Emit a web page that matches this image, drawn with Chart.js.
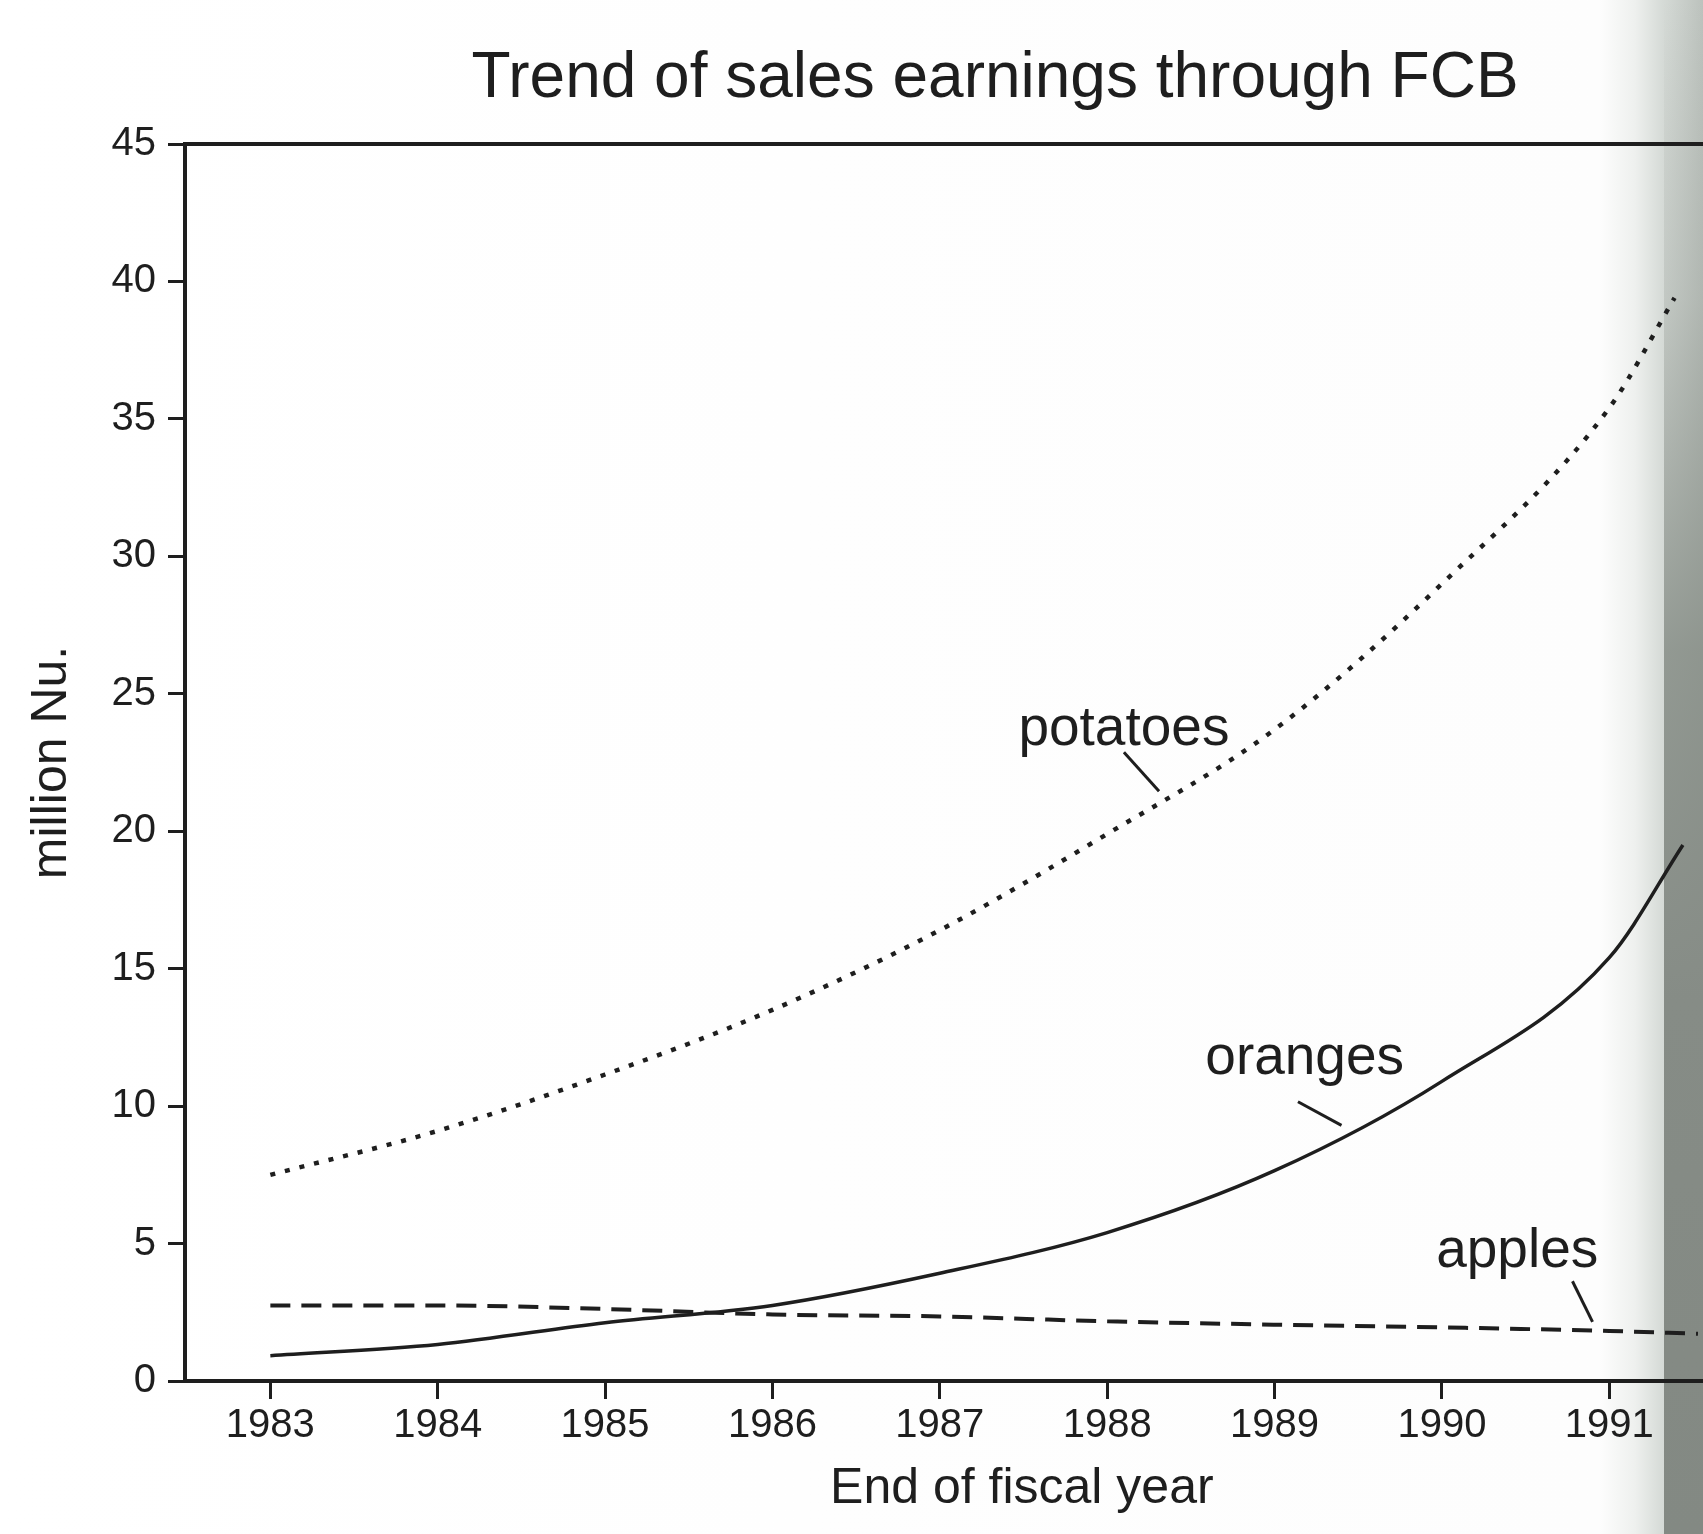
<!DOCTYPE html>
<html>
<head>
<meta charset="utf-8">
<script src="https://cdn.jsdelivr.net/npm/chart.js@4.4.1/dist/chart.umd.min.js"></script>
<style>
  html, body { margin: 0; padding: 0; background: #ffffff; }
  body { width: 1703px; height: 1534px; overflow: hidden; }
  #wrap { position: relative; width: 1703px; height: 1534px;
    background: linear-gradient(to right, #ffffff 0px, #fdfdfd 1600px, #eef0ee 1635px, #d6dbd7 1662px, #bcc2bd 1703px); }
  #edge { position: absolute; left: 1664px; top: 0; width: 39px; height: 1534px; z-index: 0;
    background: linear-gradient(to bottom, rgba(140,147,140,0) 0px, rgba(140,147,140,0.25) 300px, rgba(135,142,135,0.85) 650px, #868c86 1000px, #838983 1534px); }
  #c { position: absolute; left: 0; top: 0; z-index: 1; }
</style>
</head>
<body>
<div id="wrap"><div id="edge"></div><canvas id="c" width="1703" height="1534"></canvas></div>
<script>
// ---------------- data ----------------
const years    = [1983, 1984, 1985, 1986, 1987, 1988, 1989, 1990, 1991];
const potatoes = [7.5, 9.1, 11.15, 13.5, 16.4, 19.9, 23.7, 29.0, 35.4];
const oranges  = [0.92, 1.33, 2.12, 2.75, 3.92, 5.4, 7.65, 10.9, 15.4];
const apples   = [2.75, 2.75, 2.62, 2.42, 2.35, 2.17, 2.05, 1.95, 1.82];
// where each trend curve runs off the page edge: [year, value]
const potatoesEnd = [1991.39, 39.4];
const orangesEnd  = [1991.44, 19.5];
const applesEnd   = [1991.53, 1.72];
const seriesNames = ['potatoes', 'oranges', 'apples'];
const yTickValues = [0, 5, 10, 15, 20, 25, 30, 35, 40, 45];
const xTickLabels = years;
const xRange = [1982.49, 1991.56];
const titleText  = 'Trend of sales earnings through FCB';
const xTitleText = 'End of fiscal year';
const yTitleText = 'million Nu.';

// ---------------- styling ----------------
const INK = '#1e1e1e';
const FAMILY = '"Liberation Sans", Arial, Helvetica, sans-serif';

function pts(vals, end) {
  return years.map((yr, i) => ({ x: yr, y: vals[i] })).concat([{ x: end[0], y: end[1] }]);
}

// text annotations anchored in data coordinates
const curveLabels = [
  { text: seriesNames[0], at: [1988.10, 23.7], from: [1988.10, 22.87], to: [1988.31, 21.45] },
  { text: seriesNames[1], at: [1989.18, 11.73], from: [1989.14, 10.16], to: [1989.40, 9.3] },
  { text: seriesNames[2], at: [1990.45, 4.71], from: [1990.78, 3.63], to: [1990.90, 2.15] }
];

const annotate = {
  id: 'annotate',
  afterDatasetsDraw(chart) {
    const { ctx, chartArea } = chart;
    const x = chart.scales.x, y = chart.scales.y;
    ctx.save();
    ctx.fillStyle = INK;
    ctx.strokeStyle = INK;
    ctx.textAlign = 'center';
    ctx.textBaseline = 'middle';
    // chart title
    ctx.font = '64px ' + FAMILY;
    ctx.fillText(titleText, x.getPixelForValue(1987.33), chartArea.top - 65);
    // x axis title
    ctx.font = '50px ' + FAMILY;
    ctx.fillText(xTitleText, x.getPixelForValue(1987.49), chartArea.bottom + 108);
    // curve labels with leader lines
    ctx.font = '55px ' + FAMILY;
    ctx.lineWidth = 3;
    for (const l of curveLabels) {
      ctx.fillText(l.text, x.getPixelForValue(l.at[0]), y.getPixelForValue(l.at[1]));
      ctx.beginPath();
      ctx.moveTo(x.getPixelForValue(l.from[0]), y.getPixelForValue(l.from[1]));
      ctx.lineTo(x.getPixelForValue(l.to[0]), y.getPixelForValue(l.to[1]));
      ctx.stroke();
    }
    ctx.restore();
  }
};

new Chart(document.getElementById('c'), {
  type: 'line',
  data: {
    datasets: [
      {
        label: seriesNames[0], data: pts(potatoes, potatoesEnd),
        borderColor: INK, borderWidth: 4.5, borderDash: [5, 10], borderCapStyle: 'butt',
        pointRadius: 0, cubicInterpolationMode: 'monotone', fill: false
      },
      {
        label: seriesNames[1], data: pts(oranges, orangesEnd),
        borderColor: INK, borderWidth: 3.5,
        pointRadius: 0, cubicInterpolationMode: 'monotone', fill: false
      },
      {
        label: seriesNames[2], data: pts(apples, applesEnd),
        borderColor: INK, borderWidth: 4, borderDash: [20, 11], borderCapStyle: 'butt',
        pointRadius: 0, cubicInterpolationMode: 'monotone', fill: false
      }
    ]
  },
  options: {
    responsive: false,
    animation: false,
    devicePixelRatio: 1,
    layout: { padding: { top: 144, left: 0, right: 0, bottom: 0 } },
    plugins: {
      legend: { display: false },
      tooltip: { enabled: false },
      title: { display: false }
    },
    scales: {
      x: {
        type: 'linear', position: 'bottom',
        min: xRange[0], max: xRange[1],
        afterBuildTicks: s => { s.ticks = xTickLabels.map(v => ({ value: v })); },
        afterFit: s => { s.height = 153; },
        ticks: {
          color: INK, font: { size: 40, family: FAMILY },
          padding: 3, maxRotation: 0, minRotation: 0, autoSkip: false,
          callback: v => String(v)
        },
        grid: { drawOnChartArea: false, drawTicks: true, tickLength: 18, tickWidth: 3, tickColor: INK },
        border: { display: true, width: 4, color: INK }
      },
      xTop: {
        type: 'linear', position: 'top',
        min: xRange[0], max: xRange[1],
        afterFit: s => { s.height = 0; },
        ticks: { display: false },
        grid: { display: false, drawTicks: false },
        border: { display: true, width: 4, color: INK }
      },
      y: {
        type: 'linear', position: 'left',
        min: 0, max: 45,
        afterBuildTicks: s => { s.ticks = yTickValues.map(v => ({ value: v })); },
        afterFit: s => { s.width = 185; },
        ticks: { color: INK, font: { size: 40, family: FAMILY }, padding: 12 },
        grid: { drawOnChartArea: false, drawTicks: true, tickLength: 17, tickWidth: 3, tickColor: INK },
        border: { display: true, width: 4, color: INK },
        title: {
          display: true, text: yTitleText, color: INK,
          font: { size: 50, family: FAMILY },
          padding: { top: 22, bottom: 0 }
        }
      }
    }
  },
  plugins: [annotate]
});
</script>
</body>
</html>
